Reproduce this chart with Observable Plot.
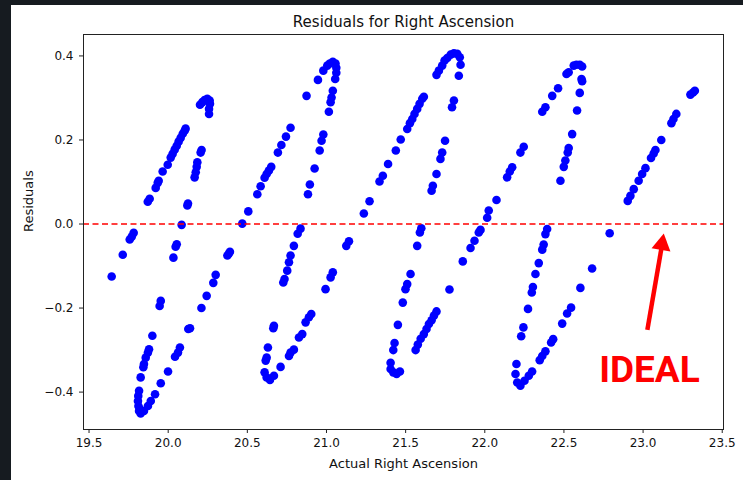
<!DOCTYPE html>
<html><head><meta charset="utf-8">
<script src="https://cdn.jsdelivr.net/npm/d3@7"></script>
<script src="https://cdn.jsdelivr.net/npm/@observablehq/plot@0.6"></script>
<style>
html,body{margin:0;padding:0;background:#161b20;width:743px;height:480px;overflow:hidden;}
#chart{position:absolute;left:11px;top:5px;width:732px;height:475px;background:#fff;}
#chart svg{display:block;}
</style></head><body><div id="chart"></div>
<script>
// Actual right ascension (x) and residuals (y)
const ra = [
  // rising branch, cycle 1
  19.643,19.713,19.757,19.770,19.782,19.871,19.883,19.921,19.934,19.940,19.965,19.997,20.016,20.028,20.041,20.054,20.066,20.079,20.092,20.104,20.110,20.201,20.216,20.230,20.247,20.262,20.264,20.258,20.258,
  // steep branch, cycle 1
  20.211,20.205,20.184,20.180,20.174,20.167,20.125,20.121,20.085,20.054,20.047,20.033,19.953,19.946,19.900,19.879,19.872,19.858,19.847,19.843,19.826,19.816,19.811,19.809,19.812,19.820,19.816,19.826,
  // rising branch 2
  19.847,19.872,19.890,19.917,19.953,19.999,20.043,20.062,20.074,20.127,20.138,20.210,20.243,20.285,20.300,20.374,20.384,20.390,20.468,20.506,20.563,20.584,20.609,20.622,20.636,20.651,20.693,20.715,20.744,20.773,
  // top + steep branch, cycle 2
  20.874,20.946,20.980,21.005,21.021,21.040,21.057,21.062,21.062,21.055,21.040,21.032,21.026,21.015,20.980,20.969,20.957,20.925,20.895,20.883,20.836,20.818,20.794,20.773,20.763,20.752,20.735,20.727,20.668,20.664,20.630,20.622,20.616,20.609,20.622,20.643,20.668,
  // rising branch 3
  20.710,20.763,20.773,20.794,20.826,20.847,20.868,20.889,20.904,20.994,21.026,21.040,21.125,21.142,21.236,21.272,21.335,21.356,21.389,21.438,21.469,21.510,21.527,21.542,21.556,21.573,21.588,21.605,21.615,21.695,21.710,21.731,21.746,21.763,21.784,21.805,21.826,21.842,21.847,21.836,
  // steep branch, cycle 3
  21.805,21.793,21.749,21.731,21.720,21.695,21.672,21.664,21.599,21.590,21.573,21.531,21.510,21.499,21.482,21.451,21.430,21.422,21.405,21.405,21.422,21.443,21.464,
  // rising branch 4
  21.563,21.577,21.595,21.615,21.632,21.647,21.664,21.679,21.695,21.777,21.861,21.910,21.935,21.962,21.973,22.015,22.025,22.074,22.141,22.158,22.173,22.225,22.246,22.363,22.383,22.426,22.463,22.516,22.530,22.562,22.579,22.600,22.615,22.611,22.615,
  // steep branch, cycle 4
  22.600,22.583,22.552,22.530,22.524,22.509,22.499,22.478,22.394,22.383,22.372,22.363,22.341,22.320,22.304,22.297,22.273,22.244,22.230,22.200,22.194,22.205,22.225,22.251,
  // rising branch 5
  22.278,22.299,22.347,22.363,22.383,22.419,22.432,22.489,22.520,22.545,22.604,22.678,22.789,22.903,22.920,22.941,22.972,22.994,23.015,23.050,23.067,23.078,23.115,23.179,23.192,23.210,23.299,23.316,23.327
];
const resid = [
  -0.125,-0.073,-0.037,-0.030,-0.021,0.053,0.060,0.086,0.098,0.103,0.125,0.141,0.158,0.167,0.177,0.186,0.196,0.205,0.215,0.222,0.227,0.284,0.290,0.295,0.298,0.294,0.286,0.274,0.262,
  0.176,0.170,0.147,0.136,0.123,0.111,0.049,0.044,-0.002,-0.048,-0.054,-0.080,-0.183,-0.195,-0.266,-0.298,-0.306,-0.318,-0.333,-0.341,-0.365,-0.397,-0.409,-0.421,-0.433,-0.440,-0.445,-0.451,
  -0.445,-0.433,-0.421,-0.405,-0.379,-0.351,-0.316,-0.306,-0.294,-0.250,-0.248,-0.200,-0.171,-0.140,-0.121,-0.075,-0.070,-0.066,0.001,0.030,0.071,0.090,0.110,0.119,0.127,0.136,0.170,0.188,0.208,0.229,
  0.305,0.343,0.365,0.377,0.382,0.386,0.382,0.372,0.360,0.345,0.317,0.301,0.290,0.267,0.213,0.198,0.175,0.132,0.094,0.071,-0.011,-0.023,-0.052,-0.075,-0.091,-0.111,-0.131,-0.139,-0.242,-0.248,-0.294,-0.318,-0.325,-0.353,-0.365,-0.371,-0.361,
  -0.340,-0.314,-0.306,-0.299,-0.270,-0.262,-0.234,-0.222,-0.214,-0.155,-0.127,-0.115,-0.052,-0.041,0.025,0.054,0.101,0.115,0.143,0.175,0.201,0.226,0.240,0.250,0.262,0.274,0.286,0.298,0.303,0.355,0.365,0.377,0.389,0.395,0.403,0.406,0.405,0.397,0.379,0.353,
  0.294,0.278,0.198,0.170,0.155,0.119,0.091,0.079,-0.010,-0.020,-0.052,-0.119,-0.143,-0.155,-0.187,-0.240,-0.283,-0.300,-0.330,-0.345,-0.353,-0.357,-0.351,
  -0.300,-0.287,-0.273,-0.262,-0.250,-0.238,-0.229,-0.218,-0.208,-0.156,-0.089,-0.057,-0.040,-0.020,-0.014,0.015,0.032,0.057,0.111,0.125,0.135,0.170,0.184,0.267,0.278,0.305,0.323,0.357,0.361,0.377,0.379,0.379,0.375,0.345,0.340,
  0.312,0.270,0.214,0.181,0.170,0.151,0.136,0.103,-0.012,-0.024,-0.049,-0.061,-0.093,-0.119,-0.150,-0.163,-0.202,-0.246,-0.267,-0.333,-0.357,-0.377,-0.385,-0.373,
  -0.361,-0.351,-0.324,-0.314,-0.303,-0.282,-0.274,-0.237,-0.213,-0.199,-0.152,-0.106,-0.022,0.055,0.067,0.083,0.103,0.119,0.133,0.157,0.168,0.176,0.200,0.240,0.250,0.262,0.308,0.313,0.317
];
const xTicks = [19.5, 20.0, 20.5, 21.0, 21.5, 22.0, 22.5, 23.0, 23.5];
const xTickLabels = ["19.5","20.0","20.5","21.0","21.5","22.0","22.5","23.0","23.5"];
const yTicks = [-0.4, -0.2, 0.0, 0.2, 0.4];
const yTickLabels = ["\u22120.4","\u22120.2","0.0","0.2","0.4"];
const xDomain = [19.465, 23.508];
const yDomain = [-0.489, 0.451];
const titleText = "Residuals for Right Ascension";
const xLabelText = "Actual Right Ascension";
const yLabelText = "Residuals";
const idealLevel = [0.0];
// annotation (data coordinates)
const noteText = ["IDEAL"];
const noteX = [23.040];
const noteY = [-0.348];
const arrowTail = {x: 23.027, y: -0.252};
const arrowShaftEnd = {x: 23.119, y: -0.051};
const arrowTip = {x: 23.131, y: -0.023};

const points = ra.map((x, i) => ({x, y: resid[i]}));
const notes = noteText.map((t, i) => ({t, x: noteX[i], y: noteY[i]}));

const chart = Plot.plot({
  width: 732, height: 475,
  marginLeft: 72, marginRight: 20, marginTop: 29, marginBottom: 51,
  style: {fontFamily: "DejaVu Sans", background: "white", color: "#111", overflow: "visible"},
  x: {domain: xDomain},
  y: {domain: yDomain},
  marks: [
    Plot.dot(points, {x: "x", y: "y", r: 4.3, fill: "#0000ff"}),
    Plot.ruleY(idealLevel, {stroke: "#ff0000", strokeWidth: 1.5, strokeDasharray: "6,3.5"}),
    Plot.frame({stroke: "#222", strokeWidth: 1}),
    Plot.axisX(xTicks, {tickSize: 4, tickPadding: 5, fontSize: 12, label: null, stroke: "#222",
      tickFormat: d => xTickLabels[xTicks.indexOf(d)]}),
    Plot.axisY(yTicks, {tickSize: 4, tickPadding: 6, fontSize: 12, label: null, stroke: "#222",
      tickFormat: d => yTickLabels[yTicks.indexOf(d)]}),
    Plot.text([titleText], {frameAnchor: "top", lineAnchor: "bottom", dy: -8, fontSize: 15, fill: "#111"}),
    Plot.text([xLabelText], {frameAnchor: "bottom", lineAnchor: "bottom", dy: 38, fontSize: 13, fill: "#111"}),
    Plot.text([yLabelText], {frameAnchor: "left", rotate: -90, dx: -55, fontSize: 13, fill: "#111"}),
    Plot.link([0], {x1: () => arrowTail.x, y1: () => arrowTail.y, x2: () => arrowShaftEnd.x, y2: () => arrowShaftEnd.y,
      stroke: "#ff0000", strokeWidth: 4.5}),
    Plot.dot([arrowTip], {x: "x", y: "y", symbol: "triangle", r: 7.1, fill: "#ff0000", stroke: "none",
      rotate: 9.7, dx: -1.9, dy: 10.8}),
    Plot.text(notes, {x: "x", y: "y", text: "t", fontFamily: "Roboto", fontWeight: "bold", fontSize: 37, fill: "#ff0000"})
  ]
});
document.getElementById("chart").appendChild(chart);
</script>
</body></html>
